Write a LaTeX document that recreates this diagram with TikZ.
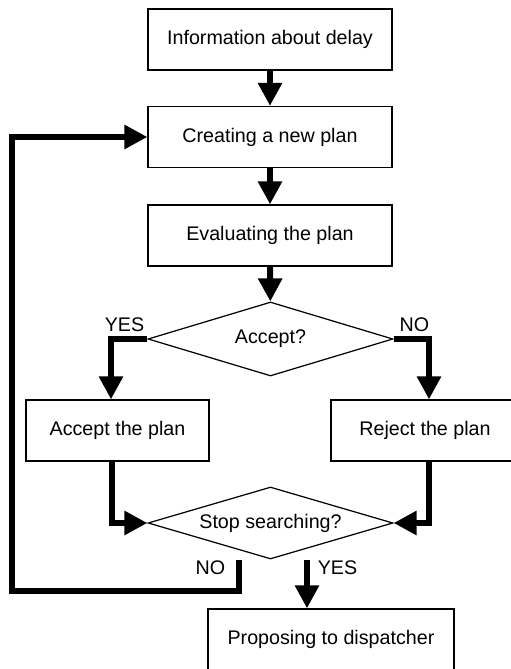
\documentclass[tikz,border=0pt]{standalone}
\usepackage{fontspec}
\setmainfont{Liberation Sans}
\usepackage{tikz}
\usetikzlibrary{arrows.meta, positioning, shapes.geometric}

\begin{document}
\begin{tikzpicture}[
    every node/.style={font=\fontsize{11.2}{13.4}\selectfont},
    stepbox/.style={draw, line width=0.7pt, rectangle, minimum height=1.22cm, inner sep=0pt},
    choice/.style={draw, line width=0.7pt, diamond, aspect=3.3, inner sep=0pt},
    flow/.style={line width=3.4pt, -{Triangle[width=0.46cm,length=0.46cm]}}
  ]
        \useasboundingbox (0,0) rectangle (10.22,13.38);
        \node[stepbox, minimum width=4.88cm] (info) at (5.4,12.59) {Information about delay};
        \node[stepbox, minimum width=4.88cm] (create) at (5.4,10.64) {Creating a new plan};
        \node[stepbox, minimum width=4.88cm] (eval) at (5.4,8.67) {Evaluating the plan};
        \node[choice, minimum width=4.9cm, minimum height=1.48cm] (acc) at (5.41,6.6) {Accept?};
        \node[stepbox, minimum width=3.66cm] (okbox) at (2.35,4.77) {Accept the plan};
        \node[stepbox, minimum width=3.76cm] (rejbox) at (8.5,4.77) {Reject the plan};
        \node[choice, minimum width=4.9cm, minimum height=1.44cm] (stop) at (5.41,2.92) {Stop searching?};
        \node[stepbox, minimum width=4.92cm] (prop) at (6.62,0.59) {Proposing to dispatcher};
        % branch labels
        \node (accyes) at (2.49,6.88) {YES};
        \node (accno) at (8.29,6.88) {NO};
        \node (stopno) at (4.21,2.02) {NO};
        \node (stopyes) at (6.75,2.02) {YES};
        % main column
        \draw[flow] (info) -- (create);
        \draw[flow] (create) -- (eval);
        \draw[flow] (eval) -- (acc);
        \draw[flow] (acc.west) -| ([xshift=-0.13cm]okbox.north);
        \draw[flow] (acc.east) -| ([xshift=0.08cm]rejbox.north);
        \draw[flow] ([xshift=-0.11cm]okbox.south) |- (stop.west);
        \draw[flow] ([xshift=0.08cm]rejbox.south) |- (stop.east);
        % loop back and exit
        \coordinate (nostart) at (4.78,2.18);
        \coordinate (loopcorner) at (0.24,1.56);
        \draw[flow] (nostart) |- (loopcorner) |- (create.west);
        \coordinate (yesstart) at (6.14,2.18);
        \draw[flow] (yesstart) -- (yesstart |- prop.north);
      \end{tikzpicture}
\end{document}
